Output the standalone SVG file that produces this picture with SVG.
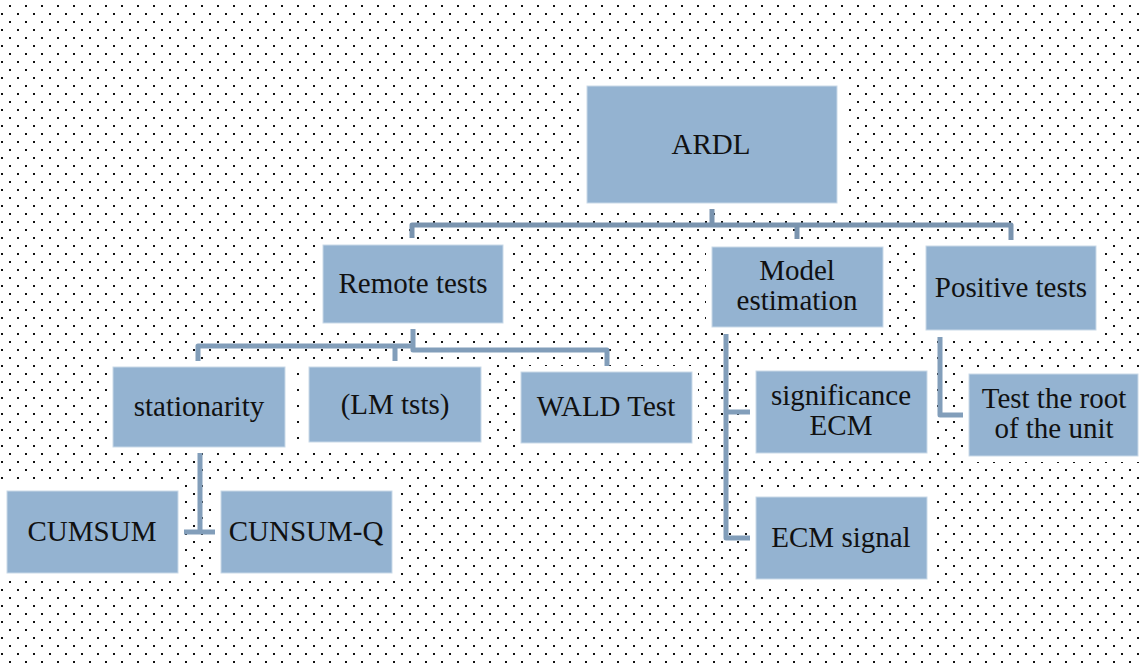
<svg xmlns="http://www.w3.org/2000/svg" width="1140" height="663" viewBox="0 0 1140 663">
<defs>
<pattern id="dots" x="0" y="0" width="16" height="16" patternUnits="userSpaceOnUse">
<rect x="9" y="5" width="2" height="2" fill="#111"/>
<rect x="1" y="13" width="2" height="2" fill="#111"/>
</pattern>
</defs>
<style>
.halo{fill:#fff}
.box{fill:#94B3D1;stroke:#C9D9E8;stroke-width:1}
.t{font-family:"Liberation Serif","Times New Roman",serif;font-size:29px;fill:#111;text-anchor:middle}
.c{fill:none;stroke:#829EBA;stroke-width:5;stroke-linejoin:round}
.c2{fill:none;stroke:#7A94AF;stroke-width:5;stroke-linejoin:round}
</style>
<rect x="0" y="0" width="1140" height="663" fill="#fff"/>
<rect x="0" y="0" width="1140" height="663" fill="url(#dots)"/>

<g id="connectors">
<path class="c2" d="M412,238 V225 H1011 V240 M797,225 V239 M712,208 V225"/>
<path class="c" d="M198,361 V346 H413 M395,346 V361 M413,328 V350 H607 V366"/>
<path class="c" d="M726,334 V538 H750 M726,412 H750"/>
<path class="c" d="M940,337 V415 H963"/>
<path class="c" d="M200,453 V532 M183,532 H215"/>
</g>

<g id="ardl">
<rect class="halo" x="581" y="80" width="262" height="129"/>
<rect class="box" x="587" y="86" width="250" height="117"/>
<text class="t" x="711" y="154">ARDL</text>
</g>
<g id="remote">
<rect class="halo" x="317" y="239" width="192" height="90"/>
<rect class="box" x="323" y="245" width="180" height="78"/>
<text class="t" x="413" y="293">Remote tests</text>
</g>
<g id="model">
<rect class="halo" x="706" y="241" width="183" height="92"/>
<rect class="box" x="712" y="247" width="171" height="80"/>
<text class="t" x="797" y="280">Model</text>
<text class="t" x="797" y="310">estimation</text>
</g>
<g id="positive">
<rect class="halo" x="920" y="240" width="182" height="96"/>
<rect class="box" x="926" y="246" width="170" height="84"/>
<text class="t" x="1011" y="297">Positive tests</text>
</g>
<g id="stationarity">
<rect class="halo" x="107" y="361" width="184" height="92"/>
<rect class="box" x="113" y="367" width="172" height="80"/>
<text class="t" x="199" y="416">stationarity</text>
</g>
<g id="lm">
<rect class="halo" x="303" y="361" width="184" height="87"/>
<rect class="box" x="309" y="367" width="172" height="75"/>
<text class="t" x="395" y="414">(LM tsts)</text>
</g>
<g id="wald">
<rect class="halo" x="515" y="366" width="183" height="83"/>
<rect class="box" x="521" y="372" width="171" height="71"/>
<text class="t" x="606" y="416">WALD Test</text>
</g>
<g id="significance">
<rect class="halo" x="750" y="365" width="183" height="94"/>
<rect class="box" x="756" y="371" width="171" height="82"/>
<text class="t" x="841" y="405">significance</text>
<text class="t" x="841" y="435">ECM</text>
</g>
<g id="ecmsignal">
<rect class="halo" x="750" y="491" width="183" height="94"/>
<rect class="box" x="756" y="497" width="171" height="82"/>
<text class="t" x="841" y="547">ECM signal</text>
</g>
<g id="testroot">
<rect class="halo" x="963" y="368" width="181" height="94"/>
<rect class="box" x="969" y="374" width="169" height="82"/>
<text class="t" x="1054" y="408">Test the root</text>
<text class="t" x="1054" y="438">of the unit</text>
</g>
<g id="cumsum">
<rect class="halo" x="1" y="485" width="183" height="94"/>
<rect class="box" x="7" y="491" width="171" height="82"/>
<text class="t" x="92" y="541">CUMSUM</text>
</g>
<g id="cunsumq">
<rect class="halo" x="215" y="485" width="183" height="94"/>
<rect class="box" x="221" y="491" width="171" height="82"/>
<text class="t" x="306" y="541">CUNSUM-Q</text>
</g>
</svg>
